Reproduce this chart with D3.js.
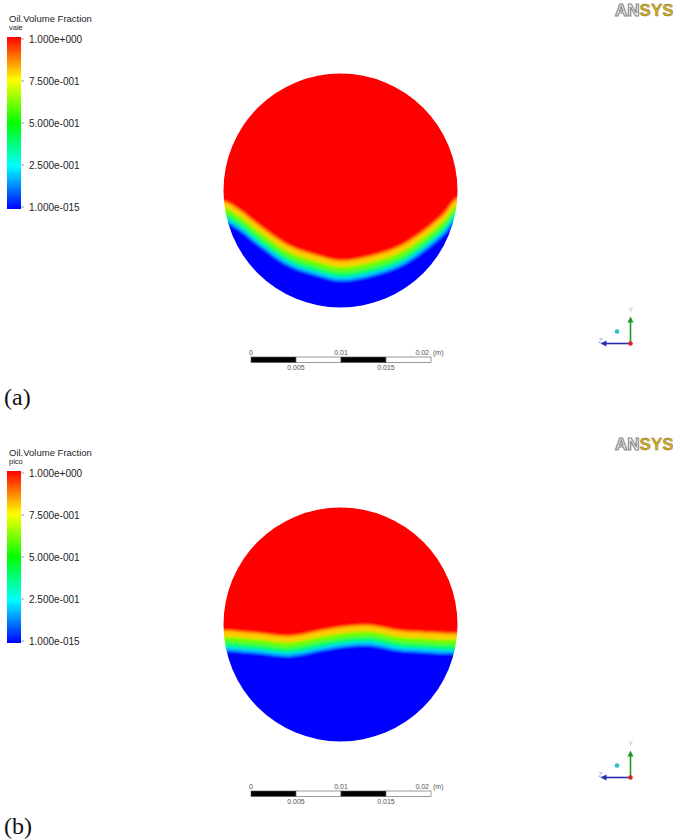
<!DOCTYPE html>
<html>
<head>
<meta charset="utf-8">
<script src="https://cdn.jsdelivr.net/npm/d3@7"></script>
<style>
  body { margin: 0; background: #fff; }
  svg { display: block; }
</style>
</head>
<body>
<div id="chart"></div>
<script>
// ---------- data ----------
var panelLabels = ["(a)", "(b)"];
var caseNames = ["vale", "pico"];

var legendValues = [1, 0.75, 0.5, 0.25, 0];
var legendLabels = ["1.000e+000", "7.500e-001", "5.000e-001", "2.500e-001", "1.000e-015"];

// ANSYS default rainbow map
var jetStops = [0, 0.25, 0.5, 0.75, 1];
var jetColors = ["#0000ff", "#00ffff", "#00ff00", "#ffff00", "#ff0000"];

// oil / water interface (volume fraction 0.5), mm from pipe centre, y up
var interfaceX     = [-13, -11.2, -8.9, -5.6, -2.3, 0, 3.3, 6.6, 9.9, 11.6, 13];
var interfaceValeY = [-2.5, -3.5, -5.3, -7.5, -8.6, -9.1, -8.6, -7.5, -5.3, -3.8, -2.2];
var interfacePicoY = [-2.0, -2.1, -2.3, -2.6, -2.0, -1.6, -1.4, -2.0, -2.2, -2.3, -2.3];

var pipeD = 26;                              // mm
var scaleTicks = [0, 0.005, 0.01, 0.015, 0.02]; // m

// ---------- layout ----------
var W = 673, H = 840, panelH = 434;
var k = 9;                 // px per mm
var cx = 340.5, cy = 190.5;
var labelY = [405, 834];

var svg = d3.select("#chart").append("svg")
    .attr("width", W)
    .attr("height", H);

var defs = svg.append("defs");

var color = d3.scaleLinear().domain(jetStops).range(jetColors);

var grad = defs.append("linearGradient")
    .attr("id", "jet")
    .attr("x1", 0).attr("y1", 1).attr("x2", 0).attr("y2", 0);
grad.selectAll("stop")
    .data(jetStops)
    .enter().append("stop")
    .attr("offset", function(d) { return d * 100 + "%"; })
    .attr("stop-color", function(d, i) { return jetColors[i]; });

defs.append("filter")
    .attr("id", "soft")
    .append("feGaussianBlur")
    .attr("stdDeviation", 1.8);

// fraction iso-levels and how far (mm) each sits below the 0.5 interface
var bandLevels = [0.1, 0.3, 0.5, 0.7, 0.9];
var bandShift  = [0.9, 0.5, 0, -0.6, -1.3];

[interfaceValeY, interfacePicoY].forEach(function(iy, i) {
    var g = svg.append("g").attr("transform", "translate(0," + i * panelH + ")");

    var R = pipeD / 2;
    var x = d3.scaleLinear().domain([-R, R]).range([cx - R * k, cx + R * k]);
    var y = d3.scaleLinear().domain([-R, R]).range([cy + R * k, cy - R * k]);

    // ----- field inside the pipe -----
    g.append("clipPath")
        .attr("id", "pipe" + i)
        .append("circle")
        .attr("cx", x(0)).attr("cy", y(0)).attr("r", x(R) - x(0));

    var field = g.append("g").attr("clip-path", "url(#pipe" + i + ")")
        .append("g").attr("filter", "url(#soft)");

    field.append("rect")
        .attr("x", x(-R - 2)).attr("y", y(R + 2))
        .attr("width", x(R + 2) - x(-R - 2))
        .attr("height", y(-R - 2) - y(R + 2))
        .attr("fill", color(0));

    var pts = interfaceX.map(function(d, j) { return [d, iy[j]]; });
    pts = [[-R - 3, iy[0]]].concat(pts, [[R + 3, iy[iy.length - 1]]]);

    bandLevels.forEach(function(lv, b) {
        var area = d3.area()
            .curve(d3.curveCatmullRom)
            .x(function(d) { return x(d[0]); })
            .y0(y(R + 2))
            .y1(function(d) { return y(d[1] - bandShift[b]); });
        field.append("path")
            .datum(pts)
            .attr("d", area)
            .attr("fill", color(Math.min(1, lv + 0.1)));
    });

    // ----- legend -----
    g.append("text")
        .attr("x", 9).attr("y", 22)
        .style("font", "9.5px 'Liberation Sans', Arial, sans-serif")
        .style("fill", "#222")
        .text("Oil.Volume Fraction");
    g.append("text")
        .attr("x", 9).attr("y", 29.5)
        .style("font", "7.5px 'Liberation Sans', Arial, sans-serif")
        .style("fill", "#222")
        .text(caseNames[i]);

    var ly = d3.scaleLinear().domain([0, 1]).range([207, 39]);
    g.append("rect")
        .attr("x", 7).attr("y", ly(1) - 2)
        .attr("width", 14).attr("height", ly(0) - ly(1) + 4)
        .attr("fill", "url(#jet)");

    var lt = g.selectAll(".ltick")
        .data(legendValues)
        .enter().append("g")
        .attr("class", "ltick")
        .attr("transform", function(d) { return "translate(0," + ly(d) + ")"; });
    lt.append("line")
        .attr("x1", 21).attr("x2", 24)
        .attr("stroke", "#888").attr("stroke-width", 0.8);
    lt.append("text")
        .attr("x", 29)
        .attr("dy", "0.35em")
        .style("font", "10px 'Liberation Sans', Arial, sans-serif")
        .style("fill", "#222")
        .text(function(d, j) { return legendLabels[j]; });

    // ----- scale bar -----
    var sx = d3.scaleLinear().domain([0, 0.02]).range([251, 251 + 0.02 * 1000 * k]);
    var segs = d3.pairs(scaleTicks);
    g.selectAll(".seg")
        .data(segs)
        .enter().append("rect")
        .attr("class", "seg")
        .attr("x", function(d) { return sx(d[0]); })
        .attr("y", 357)
        .attr("width", function(d) { return sx(d[1]) - sx(d[0]); })
        .attr("height", 5.5)
        .attr("fill", function(d, j) { return j % 2 ? "#fff" : "#000"; })
        .attr("stroke", "#555")
        .attr("stroke-width", 0.6);

    var sFont = "7px 'Liberation Sans', Arial, sans-serif";
    g.selectAll(".stop")
        .data(scaleTicks.filter(function(d, j) { return j % 2 === 0; }))
        .enter().append("text")
        .attr("class", "stop")
        .attr("x", function(d, j) { return j === 2 ? sx(d) - 2 : sx(d); })
        .attr("y", 354.5)
        .attr("text-anchor", function(d, j) { return j === 2 ? "end" : "middle"; })
        .style("font", sFont).style("fill", "#555")
        .text(function(d) { return String(d); });
    g.selectAll(".sbot")
        .data(scaleTicks.filter(function(d, j) { return j % 2 === 1; }))
        .enter().append("text")
        .attr("class", "sbot")
        .attr("x", function(d) { return sx(d); })
        .attr("y", 369.5)
        .attr("text-anchor", "middle")
        .style("font", sFont).style("fill", "#555")
        .text(function(d) { return String(d); });
    g.append("text")
        .attr("x", sx(0.02) + 2).attr("y", 354.5)
        .style("font", sFont).style("fill", "#555")
        .text("(m)");

    // ----- axis triad -----
    var ox = 630.5, oy = 343.5;
    g.append("line").attr("x1", ox).attr("y1", oy).attr("x2", ox).attr("y2", oy - 22)
        .attr("stroke", "#1d9a2a").attr("stroke-width", 1.6);
    g.append("path").attr("d", "M" + (ox - 3) + "," + (oy - 21) + "L" + ox + "," + (oy - 27) + "L" + (ox + 3) + "," + (oy - 21) + "Z")
        .attr("fill", "#1d9a2a");
    g.append("line").attr("x1", ox).attr("y1", oy).attr("x2", ox - 25).attr("y2", oy)
        .attr("stroke", "#2a2ab0").attr("stroke-width", 1.6);
    g.append("path").attr("d", "M" + (ox - 24) + "," + (oy - 3) + "L" + (ox - 30) + "," + oy + "L" + (ox - 24) + "," + (oy + 3) + "Z")
        .attr("fill", "#2a2ab0");
    g.append("circle").attr("cx", ox).attr("cy", oy).attr("r", 2.3).attr("fill", "#e02020");
    g.append("circle").attr("cx", 617).attr("cy", 331.5).attr("r", 2.3).attr("fill", "#22c4c8");
    g.append("text").attr("x", ox).attr("y", oy - 32).attr("text-anchor", "middle")
        .style("font", "7px 'Liberation Sans', Arial, sans-serif").style("fill", "#9cd39c").text("Y");
    g.append("text").attr("x", ox - 30).attr("y", oy - 1).attr("text-anchor", "middle")
        .style("font", "7px 'Liberation Sans', Arial, sans-serif").style("fill", "#a0a0dc").text("Z");

    // ----- logo -----
    var logo = g.append("text")
        .attr("x", 615).attr("y", 16)
        .style("font", "bold 17px 'Liberation Sans', Arial, sans-serif");
    logo.append("tspan").text("AN")
        .attr("fill", "#fff").attr("stroke", "#8a8a8a").attr("stroke-width", 1.2);
    logo.append("tspan").text("SYS")
        .attr("fill", "#c9a92e").attr("stroke", "#8c7420").attr("stroke-width", 0.4);

    // ----- panel label -----
    svg.append("text")
        .attr("x", 4).attr("y", labelY[i])
        .style("font", "24px 'Liberation Serif', 'Times New Roman', serif")
        .style("fill", "#111")
        .text(panelLabels[i]);
});
</script>
</body>
</html>
